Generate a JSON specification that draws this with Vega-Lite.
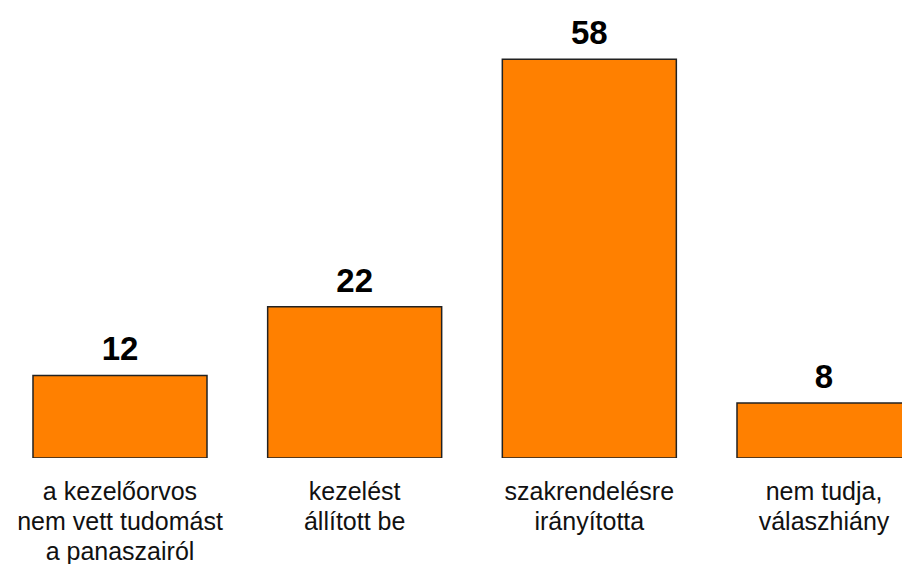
{
  "$schema": "https://vega.github.io/schema/vega-lite/v6.json",
  "width": 902,
  "height": 458,
  "autosize": {"type": "none"},
  "padding": {"left": 0, "right": 0, "top": 0, "bottom": 106},
  "background": "white",
  "config": {"view": {"stroke": null}},
  "data": {
    "values": [
      {"cat": "a kezelőorvos|nem vett tudomást|a panaszairól", "value": 12},
      {"cat": "kezelést|állított be", "value": 22},
      {"cat": "szakrendelésre|irányította", "value": 58},
      {"cat": "nem tudja,|válaszhiány", "value": 8}
    ]
  },
  "encoding": {
    "x": {
      "field": "cat",
      "type": "nominal",
      "sort": null,
      "scale": {"range": [0, 944], "paddingInner": 0.2585, "paddingOuter": 0.1406},
      "axis": {
        "title": null,
        "domain": false,
        "ticks": false,
        "labelAngle": 0,
        "labelExpr": "split(datum.label, '|')",
        "labelFont": "Liberation Sans",
        "labelFontSize": 25,
        "labelColor": "#111111",
        "labelLineHeight": 30,
        "labelPadding": 21,
        "labelBaseline": "top",
        "labelLimit": 400
      }
    },
    "y": {
      "field": "value",
      "type": "quantitative",
      "scale": {"domain": [0, 66.6], "nice": false},
      "axis": null
    }
  },
  "layer": [
    {
      "mark": {"type": "bar", "fill": "#FF8000", "stroke": "#222222", "strokeWidth": 1.5, "clip": true}
    },
    {
      "mark": {"type": "text", "baseline": "alphabetic", "dy": -15, "font": "Liberation Sans", "fontWeight": "bold", "fontSize": 33, "fill": "#000000"},
      "encoding": {"text": {"field": "value", "type": "quantitative"}}
    }
  ]
}
